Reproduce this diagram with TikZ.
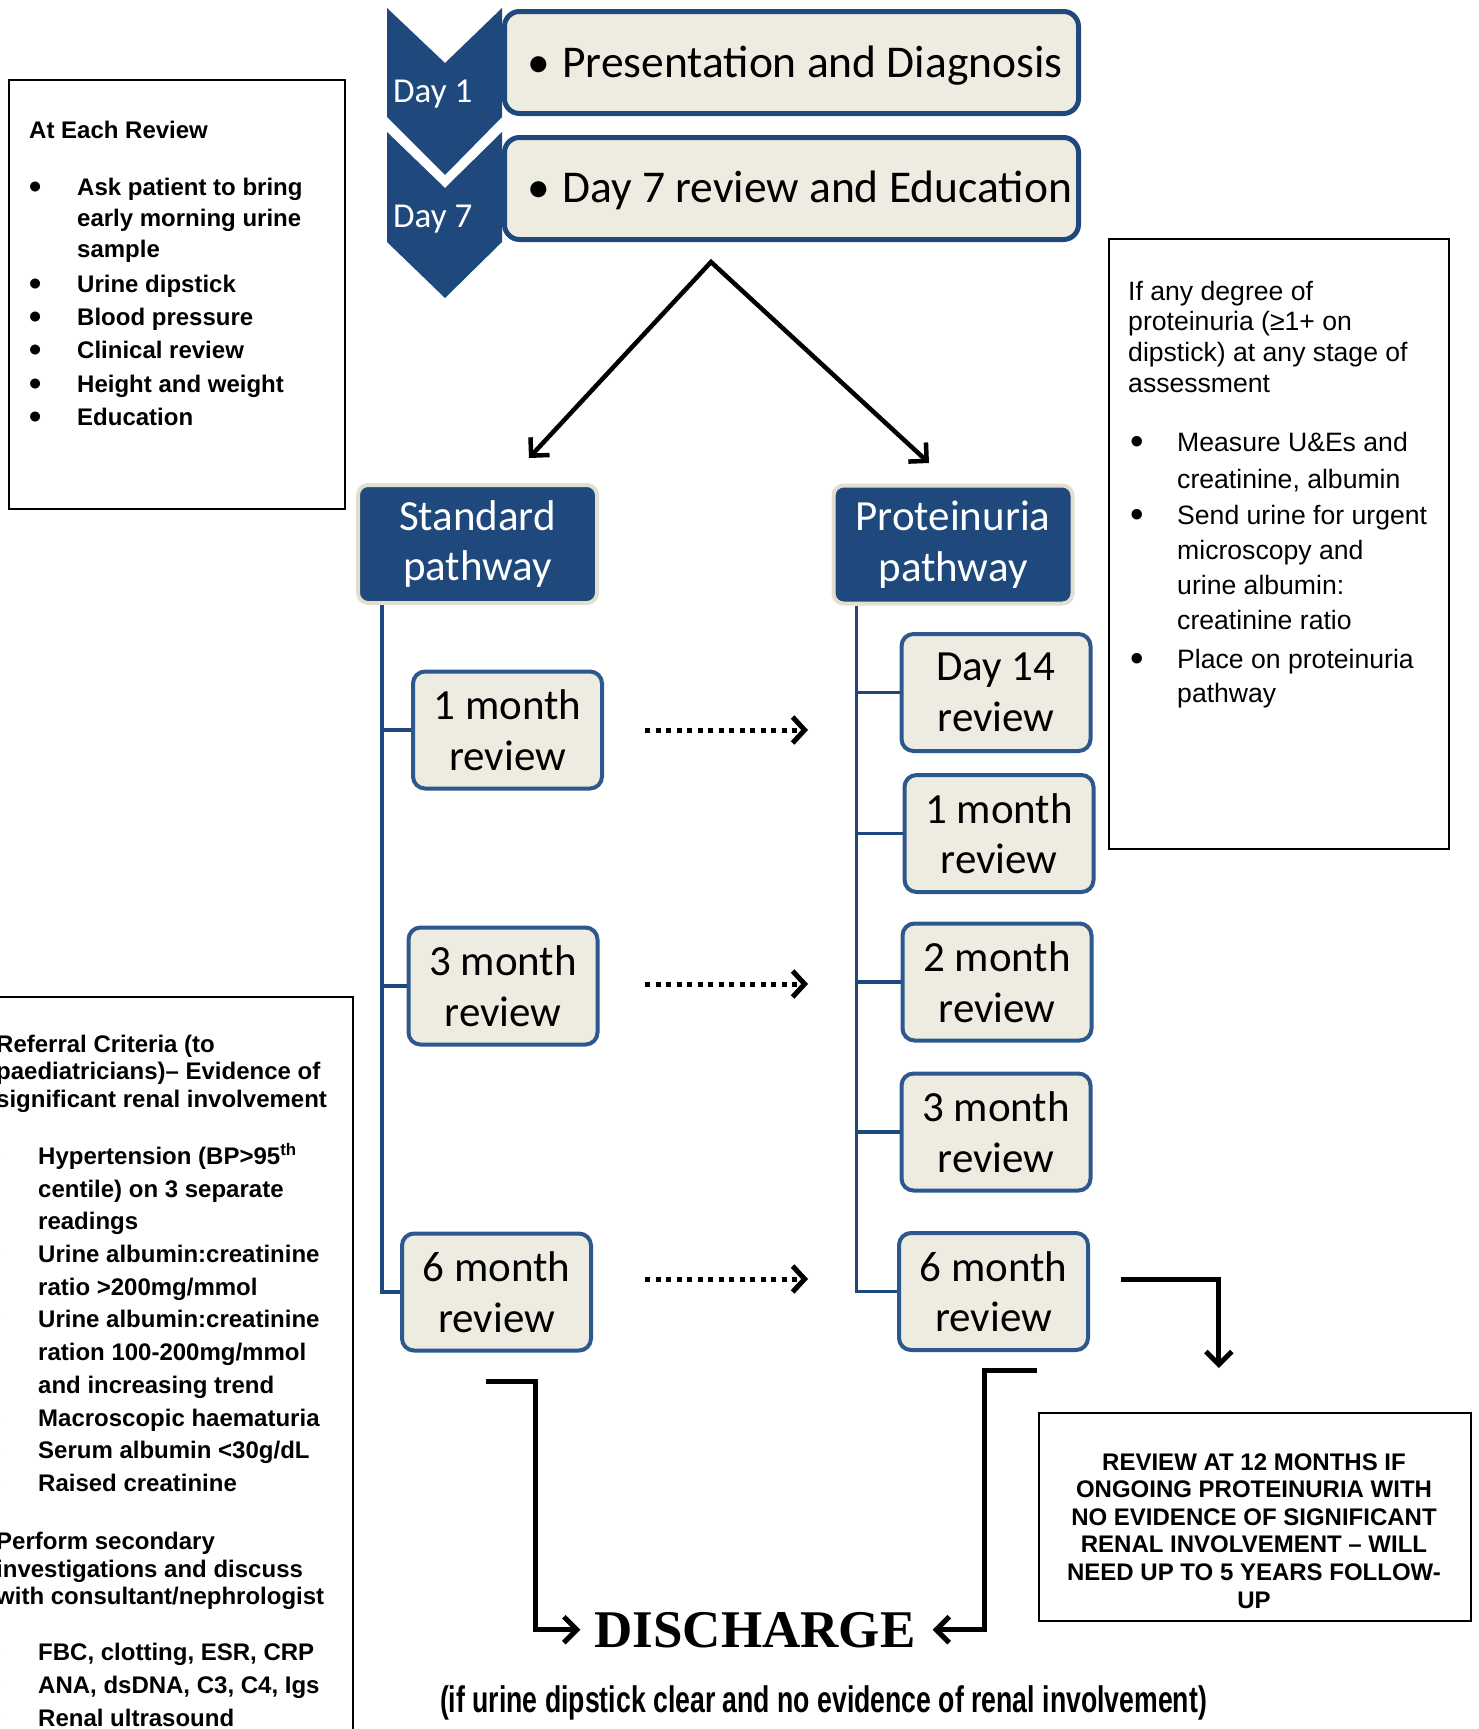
\documentclass[tikz,border=0pt]{standalone}
\usepackage{graphicx}
\usepackage{fontspec}
\setmainfont{Liberation Sans}
\newfontfamily\calibri{Carlito}
\newfontfamily\timesbold{Liberation Serif}
\newfontfamily\narrowsans[FakeStretch=0.72]{Liberation Sans}
\usetikzlibrary{arrows.meta}
\definecolor{pathblue}{RGB}{31,73,125}
\definecolor{boxblue}{RGB}{45,88,142}
\definecolor{creamfill}{RGB}{238,236,225}
\definecolor{creamedge}{RGB}{226,223,207}
\newlength\bulpre
\newlength\bulwid
\newcommand{\bigdot}{\raisebox{-0.15em}{\scalebox{1.45}{\textbullet}}}
\newcommand{\bulitem}[1]{\hspace*{\bulpre}\makebox[\bulwid][l]{\bigdot}#1}
\newcommand{\bulcont}[1]{\hspace*{\bulpre}\hspace*{\bulwid}#1}

\begin{document}
\begin{tikzpicture}[x=1pt,y=-1pt,
  revbox/.style={draw=boxblue,line width=4pt,fill=creamfill,rounded corners=12pt,
    minimum width=189pt,minimum height=117pt,align=center,
    font=\calibri\fontsize{43}{50.5}\selectfont},
  headbox/.style={draw=creamedge,line width=4pt,fill=pathblue,rounded corners=10pt,
    minimum width=239pt,minimum height=118pt,align=center,text=white,
    font=\calibri\fontsize{43}{50.5}\selectfont},
  topbox/.style={draw=pathblue,line width=5pt,fill=creamfill,rounded corners=15pt,
    minimum width=574pt,minimum height=102pt,anchor=north west},
  toptext/.style={anchor=base west,inner sep=0pt,font=\calibri\fontsize{45.5}{50}\selectfont},
  daylabel/.style={anchor=base west,inner sep=0pt,text=white,font=\calibri\fontsize{35}{40}\selectfont},
  infobox/.style={draw,line width=1.6pt,inner sep=0pt},
  infotext/.style={anchor=base west,inner sep=0pt,align=left},
  branch/.style={draw=pathblue,line width=3.5pt},
  fork/.style={line width=4.5pt,line join=miter,
    {Straight Barb[length=13pt,width=26pt,line width=4.5pt]}-{Straight Barb[length=13pt,width=26pt,line width=4.5pt]}},
  elbow/.style={line width=5pt,-{Straight Barb[length=13pt,width=26pt,line width=5pt]}},
  dotarrow/.style={line width=5pt,dash pattern=on 5pt off 5.5pt,
    -{Straight Barb[length=12pt,width=26pt,line width=5pt]}}
]
  \useasboundingbox (0,0) rectangle (1479,1729);
  \clip (0,0) rectangle (1479,1729);

  % day 1 / day 7 strip
  \node[topbox] (topbox1) at (502,9) {};
  \node[topbox] (topbox2) at (502,135) {};
  \fill[pathblue] (387,8) -- (445,63) -- (502,8) -- (502,117) -- (445,175) -- (387,117) -- cycle;
  \fill[pathblue] (387,132) -- (445,188) -- (502,132) -- (502,242) -- (445,298) -- (387,242) -- cycle;
  \node[daylabel] (day1) at (393,102) {Day 1};
  \node[daylabel] (day7) at (393,227) {Day 7};
  \node[toptext] (toptext1) at (527,77) {\makebox[35pt][l]{\textbullet}Presentation and Diagnosis};
  \node[toptext] (toptext2) at (527,202) {\makebox[35pt][l]{\textbullet}Day 7 review and Education};

  % split to the two pathways
  \coordinate (split) at (711,262);
  \coordinate (stdtip) at (529,458);
  \coordinate (prottip) at (929,463);
  \draw[fork] (stdtip) -- (split) -- (prottip);

  \node[headbox] (stdhead) at (477.5,544) {Standard\\pathway};
  \node[headbox] (prothead) at (953,544.5) {Proteinuria\\pathway};

  % review boxes
  \foreach \nm/\x/\y/\txt in {s1/507.5/730/1 month, s3/503/986/3 month, s6/496.5/1292/6 month}
    \node[revbox] (\nm) at (\x,\y) {\txt\\review};
  \foreach \nm/\x/\y/\txt in {p14/996/692.5/Day 14, p1/999/833.5/1 month, p2/997/982/2 month,
      p3/996/1132/3 month, p6/993.5/1291.5/6 month}
    \node[revbox] (\nm) at (\x,\y) {\txt\\review};

  \foreach \nm in {s1,s3,s6}
    \draw[branch] ([xshift=26pt]stdhead.south west) |- (\nm.west);
  \foreach \nm in {p14,p1,p2,p3,p6}
    \draw[branch] ([xshift=25pt]prothead.south west) |- (\nm.west);

  % dotted arrows between columns
  \foreach \i/\y in {1/730, 3/984, 6/1279} {
    \coordinate (dot\i a) at (645,\y);
    \coordinate (dot\i b) at (808,\y);
    \draw[dotarrow] (dot\i a) -- (dot\i b);
  }

  % side boxes (text nodes sit on their last baseline)
  \node[infobox, minimum width=336, minimum height=429, anchor=north west] (eachbox) at (8,79) {};
  \node[infotext, font={\fontsize{24}{31}\selectfont\bfseries\setlength\bulpre{0pt}\setlength\bulwid{48pt}}]
    (eachtext) at (29,425) {At Each Review\\[26pt]
    \bulitem{Ask patient to bring}\\
    \bulcont{early morning urine}\\
    \bulcont{sample}\\[4pt]
    \bulitem{Urine dipstick}\\[2pt]
    \bulitem{Blood pressure}\\[2pt]
    \bulitem{Clinical review}\\[3pt]
    \bulitem{Height and weight}\\[2pt]
    \bulitem{Education}};

  \node[infobox, minimum width=340, minimum height=610, anchor=north west] (protbox) at (1108,238) {};
  \node[infotext, font={\fontsize{26.6}{30.6}\selectfont\setlength\bulpre{2pt}\setlength\bulwid{47pt}}]
    (prottext) at (1128,702) {If any degree of\\
    proteinuria (≥1+ on\\
    dipstick) at any stage of\\
    assessment\\[28.4pt]
    \bulitem{Measure U\&Es and}\\[6.4pt]
    \bulcont{creatinine, albumin}\\[5.4pt]
    \bulitem{Send urine for urgent}\\[4.4pt]
    \bulcont{microscopy and}\\[4.4pt]
    \bulcont{urine albumin:}\\[4.4pt]
    \bulcont{creatinine ratio}\\[8.4pt]
    \bulitem{Place on proteinuria}\\[3.4pt]
    \bulcont{pathway}};

  \node[infobox, minimum width=394, minimum height=764, anchor=north east] (referbox) at (354,996) {};
  \node[infotext, font={\fontsize{24}{27.6}\selectfont\bfseries\setlength\bulpre{-7pt}\setlength\bulwid{49pt}}]
    (refertext) at (-4,1726) {Referral Criteria (to\\
    paediatricians)– Evidence of\\
    significant renal involvement\\[29.4pt]
    \bulitem{Hypertension (BP>95\textsuperscript{th}}\\[5.1pt]
    \bulcont{centile) on 3 separate}\\[5.1pt]
    \bulcont{readings}\\[5.1pt]
    \bulitem{Urine albumin:creatinine}\\[5.1pt]
    \bulcont{ratio >200mg/mmol}\\[5.1pt]
    \bulitem{Urine albumin:creatinine}\\[5.1pt]
    \bulcont{ration 100-200mg/mmol}\\[5.1pt]
    \bulcont{and increasing trend}\\[5.1pt]
    \bulitem{Macroscopic haematuria}\\[5.1pt]
    \bulitem{Serum albumin <30g/dL}\\[5.1pt]
    \bulitem{Raised creatinine}\\[30.4pt]
    Perform secondary\\
    investigations and discuss\\
    with consultant/nephrologist\\[28.4pt]
    \bulitem{FBC, clotting, ESR, CRP}\\[5.1pt]
    \bulitem{ANA, dsDNA, C3, C4, Igs}\\[5.1pt]
    \bulitem{Renal ultrasound}};

  \node[infobox, minimum width=432, minimum height=208, anchor=north west] (review12) at (1038,1412) {};
  \node[infotext, align=center, anchor=base, font=\fontsize{24}{27.6}\selectfont\bfseries]
    (review12text) at (1254,1608) {REVIEW AT 12 MONTHS IF\\
    ONGOING PROTEINURIA WITH\\
    NO EVIDENCE OF SIGNIFICANT\\
    RENAL INVOLVEMENT – WILL\\
    NEED UP TO 5 YEARS FOLLOW-\\
    UP};

  % discharge
  \node[anchor=base, inner sep=0pt, font=\timesbold\bfseries\fontsize{53}{60}\selectfont]
    (discharge) at (755,1647) {DISCHARGE};
  \node[anchor=base, inner sep=0pt, font=\narrowsans\bfseries\fontsize{37}{42}\selectfont]
    (note) at (823.5,1712) {(if urine dipstick clear and no evidence of renal involvement)};

  \coordinate (p6out) at (1121,1279);
  \draw[elbow] (p6out) -| ([xshift=-36pt,yshift=44pt]review12.north);
  \coordinate (s6out) at (486,1381);
  \draw[elbow] (s6out) -- ++(49,0) |- ([xshift=-14pt]discharge.west);
  \coordinate (p6down) at (1037,1370);
  \draw[elbow] (p6down) -- ++(-53,0) |- ([xshift=17pt]discharge.east);
\end{tikzpicture}
\end{document}
